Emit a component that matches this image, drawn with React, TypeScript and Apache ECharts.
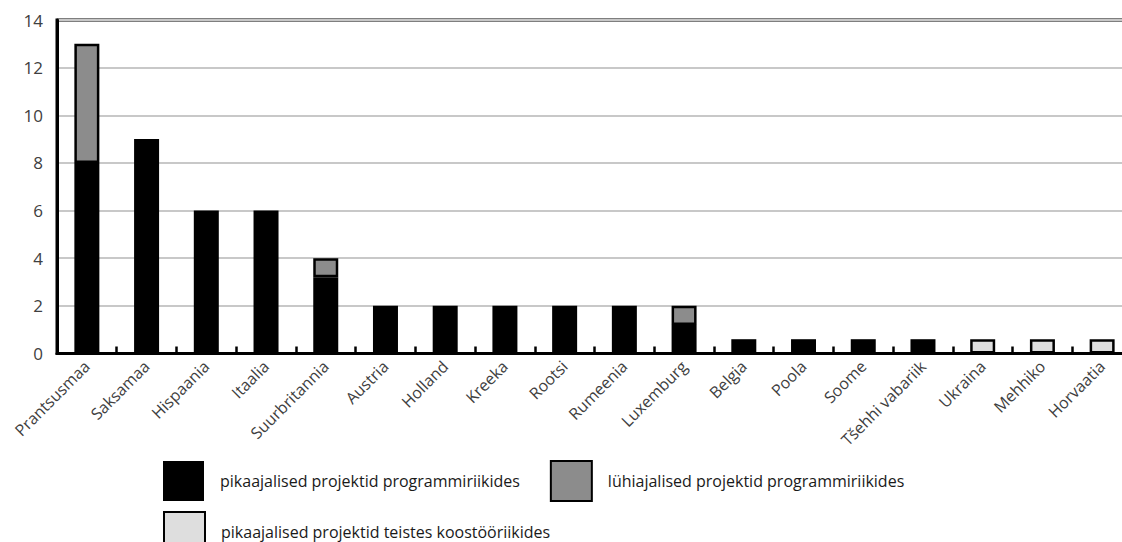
import React, { useEffect, useRef } from "react";
import * as echarts from "echarts";

const categories = [
  "Prantsusmaa", "Saksamaa", "Hispaania", "Itaalia", "Suurbritannia", "Austria",
  "Holland", "Kreeka", "Rootsi", "Rumeenia", "Luxemburg", "Belgia", "Poola",
  "Soome", "Tšehhi vabariik", "Ukraina", "Mehhiko", "Horvaatia",
];
const longProgramme = [8, 9, 6, 6, 3.2, 2, 2, 2, 2, 2, 1.2, 0.6, 0.6, 0.6, 0.6, null, null, null];
const shortProgramme = [5, null, null, null, 0.8, null, null, null, null, null, 0.8, null, null, null, null, null, null, null];
const longOther = [null, null, null, null, null, null, null, null, null, null, null, null, null, null, null, 0.6, 0.6, 0.6];
const seriesNames = [
  "pikaajalised projektid programmiriikides",
  "lühiajalised projektid programmiriikides",
  "pikaajalised projektid teistes koostööriikides",
];
const yTicks = [0, 14, 2];

const FONT = "'Open Sans', 'Noto Sans', sans-serif";

export default function App() {
  const ref = useRef<HTMLDivElement>(null);
  useEffect(() => {
    if (!ref.current) return;
    const chart = echarts.init(ref.current, null, { renderer: "svg" });
    const legendText = { fontSize: 16, color: "#1a1a1a", fontFamily: FONT, padding: [0, 0, 0, 11] };
    chart.setOption({
      animation: false,
      backgroundColor: "#ffffff",
      grid: {
        left: 57, top: 20, width: 1075, height: 333.5,
        outerBoundsMode: "none", containLabel: false,
        show: true, borderColor: "#000", borderWidth: 3, backgroundColor: "transparent",
      },
      legend: [
        {
          left: 158, top: 455, itemWidth: 41, itemHeight: 40, itemGap: 30, icon: "rect",
          selectedMode: false, data: [seriesNames[0], seriesNames[1]], textStyle: legendText,
        },
        {
          left: 158, top: 506, itemWidth: 41, itemHeight: 40, itemGap: 30, icon: "rect",
          selectedMode: false, data: [seriesNames[2]], textStyle: legendText,
        },
      ],
      xAxis: {
        type: "category",
        data: categories,
        boundaryGap: true,
        axisLine: { show: true, lineStyle: { color: "#000", width: 3 } },
        axisTick: { show: true, inside: true, length: 7, lineStyle: { color: "#000", width: 2.5 } },
        axisLabel: {
          rotate: 45, margin: 10, fontSize: 16, color: "#404040", fontFamily: FONT, interval: 0,
        },
        splitLine: { show: false },
      },
      yAxis: {
        type: "value",
        min: yTicks[0], max: yTicks[1], interval: yTicks[2],
        axisLine: { show: true, lineStyle: { color: "#000", width: 3 } },
        axisTick: { show: false },
        axisLabel: { fontSize: 17, color: "#404040", fontFamily: FONT, margin: 14 },
        splitLine: { show: true, lineStyle: { color: "#c8c8c8", width: 2 } },
      },
      series: [
        {
          name: seriesNames[0], type: "bar", stack: "total", data: longProgramme, barWidth: 25,
          itemStyle: { color: "#000000", borderColor: "#000000", borderWidth: 0 },
        },
        {
          name: seriesNames[1], type: "bar", stack: "total", data: shortProgramme, barWidth: 25,
          itemStyle: { color: "#8c8c8c", borderColor: "#000000", borderWidth: 2.5 },
        },
        {
          name: seriesNames[2], type: "bar", stack: "total", data: longOther, barWidth: 25,
          itemStyle: { color: "#dedede", borderColor: "#000000", borderWidth: 2.5 },
        },
      ],
    });
    return () => chart.dispose();
  }, []);
  return (
    <div
      ref={ref}
      style={{ position: "fixed", left: 0, top: 0, width: 1122, height: 542, background: "#fff" }}
    />
  );
}
